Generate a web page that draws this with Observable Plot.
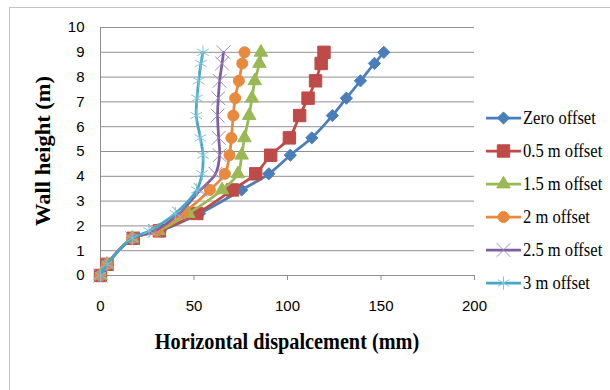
<!DOCTYPE html>
<html><head><meta charset="utf-8">
<script src="https://cdn.jsdelivr.net/npm/d3@7"></script>
<script src="https://cdn.jsdelivr.net/npm/@observablehq/plot@0.6"></script>
<style>
body{margin:0;background:#fff;}
#wrap{position:relative;width:610px;height:390px;overflow:hidden;background:#fff;}
#frame{position:absolute;left:9px;top:7px;width:640px;height:420px;border-left:1px solid #c4c4c4;border-top:1px solid #c4c4c4;}
#chart{position:absolute;left:0;top:0;}
.title{position:absolute;font-family:"Liberation Serif",serif;font-weight:bold;color:#000;white-space:nowrap;line-height:1;font-size:22.5px;}
#xtitle{left:287px;top:331px;transform:translateX(-50%) scaleX(0.9);}
#ytitle{left:44px;top:151px;transform:translate(-50%,-50%) rotate(-90deg) scaleY(0.9);}
.leg{position:absolute;left:486px;height:24px;width:124px;}
.leg svg{position:absolute;left:0;top:0;}
.leg span{position:absolute;left:37px;top:0;line-height:24px;font-family:"Liberation Serif",serif;font-size:18px;color:#000;white-space:nowrap;transform:scaleX(0.92);transform-origin:left center;}
</style>
</head><body>
<div id="wrap">
  <div id="frame"></div>
  <div id="chart"></div>
  <div class="title" id="ytitle">Wall height (m)</div>
  <div class="title" id="xtitle">Horizontal dispalcement (mm)</div>
  <div id="legend"></div>
</div>
<script>
// Wall heights (m) at which displacements were recorded
const heights = [0, 0.45, 1.5, 1.8, 2.5, 3.45, 4.1, 4.85, 5.55, 6.45, 7.15, 7.85, 8.55, 9.0];

// Horizontal displacement (mm) for each offset
const zeroOffset    = [0, 3.5, 17.5, 32, 53, 75.5, 90, 101.5, 113, 124, 131.5, 139, 146.5, 151.5];
const offset0_5     = [0, 3.5, 17.5, 31.5, 51.5, 70.5, 83, 91, 101, 106.5, 111, 115, 118, 119.5];
const offset1_5     = [0, 3.5, 17, 31, 47, 65, 73.5, 75.5, 77, 79.5, 81, 82.5, 85, 85.8];
const offset2       = [0, 3.5, 17, 30, 44, 58.5, 66.5, 69, 70, 71, 72, 74, 75.8, 77];
const offset2_5     = [0, 3.5, 17, 29, 42, 53.5, 61.5, 63.7, 63.2, 62.6, 63, 63.7, 65, 65.8];
const offset3       = [0, 3.5, 17, 26, 40, 51.5, 54.3, 54.8, 53.4, 51.2, 51.6, 52.5, 53.7, 54.8];

const seriesNames = ["Zero offset", "0.5 m offset", "1.5 m offset", "2 m offset", "2.5 m offset", "3 m offset"];
const xTicks = [0, 50, 100, 150, 200];
const yTicks = [0, 1, 2, 3, 4, 5, 6, 7, 8, 9, 10];

const seriesValues = [zeroOffset, offset0_5, offset1_5, offset2, offset2_5, offset3];
const styles = [
  {line: "#4A7EBB", symbol: "diamond2", fill: "#4A7EBB", stroke: "#4A7EBB", r: 5.5, sw: 1},
  {line: "#BE4B48", symbol: "square", fill: "#BE4B48", stroke: "#BE4B48", r: 7, sw: 1},
  {line: "#98B954", symbol: "triangle", fill: "#98B954", stroke: "#98B954", r: 5, sw: 1},
  {line: "#E8893D", symbol: "circle", fill: "#E8893D", stroke: "#E8893D", r: 5.5, sw: 1},
  {line: "#7D5FA0", symbol: "times", fill: "none", stroke: "#9A88C0", r: 6.3, sw: 1},
  {line: "#46A8C4", symbol: "asterisk", fill: "none", stroke: "#7CC6DA", r: 6.3, sw: 1}
];

const rows = [];
seriesNames.forEach((name, i) => {
  heights.forEach((h, j) => rows.push({series: name, h, d: seriesValues[i][j]}));
});

const marks = [
  Plot.gridY(yTicks, {stroke: "#8f8f8f", strokeOpacity: 1}),
  Plot.ruleX([0], {stroke: "#8f8f8f"}),
  Plot.axisX(xTicks, {tickSize: 5, tickPadding: 20, stroke: "#8f8f8f", fill: "#000", label: null}),
  Plot.axisY(yTicks, {tickSize: 0, tickPadding: 16, fill: "#000", label: null})
];
seriesNames.forEach((name, i) => {
  const s = styles[i];
  const data = rows.filter(r => r.series === name);
  marks.push(Plot.line(data, {x: "d", y: "h", stroke: s.line, strokeWidth: 2.75, curve: "catmull-rom"}));
  marks.push(Plot.dot(data, {x: "d", y: "h", symbol: s.symbol, r: s.r, fill: s.fill, stroke: s.stroke, strokeWidth: s.sw}));
});

const plot = Plot.plot({
  width: 610,
  height: 390,
  marginLeft: 100,
  marginRight: 136,
  marginTop: 27,
  marginBottom: 115,
  x: {domain: [0, 200]},
  y: {domain: [0, 10]},
  style: {fontFamily: "Liberation Sans, sans-serif", fontSize: "15px", color: "#000", background: "transparent"},
  marks
});
document.getElementById("chart").appendChild(plot);

// Legend
const legend = document.getElementById("legend");
const symMap = {diamond2: d3.symbolDiamond2, square: d3.symbolSquare, triangle: d3.symbolTriangle, circle: d3.symbolCircle, times: d3.symbolTimes, asterisk: d3.symbolAsterisk};
seriesNames.forEach((name, i) => {
  const s = styles[i];
  const y = 118.3 + i * 32.9;
  const div = document.createElement("div");
  div.className = "leg";
  div.style.top = (y - 12) + "px";
  const ns = "http://www.w3.org/2000/svg";
  const svg = document.createElementNS(ns, "svg");
  svg.setAttribute("width", 36); svg.setAttribute("height", 24);
  const ln = document.createElementNS(ns, "line");
  ln.setAttribute("x1", 0); ln.setAttribute("x2", 35); ln.setAttribute("y1", 12); ln.setAttribute("y2", 12);
  ln.setAttribute("stroke", s.line); ln.setAttribute("stroke-width", 2.75);
  svg.appendChild(ln);
  const p = document.createElementNS(ns, "path");
  p.setAttribute("d", d3.symbol(symMap[s.symbol], Math.PI * s.r * s.r)());
  p.setAttribute("transform", "translate(17.5,12)");
  p.setAttribute("fill", s.fill); p.setAttribute("stroke", s.stroke); p.setAttribute("stroke-width", s.sw);
  svg.appendChild(p);
  div.appendChild(svg);
  const sp = document.createElement("span");
  sp.textContent = name;
  div.appendChild(sp);
  legend.appendChild(div);
});
</script>
</body></html>
